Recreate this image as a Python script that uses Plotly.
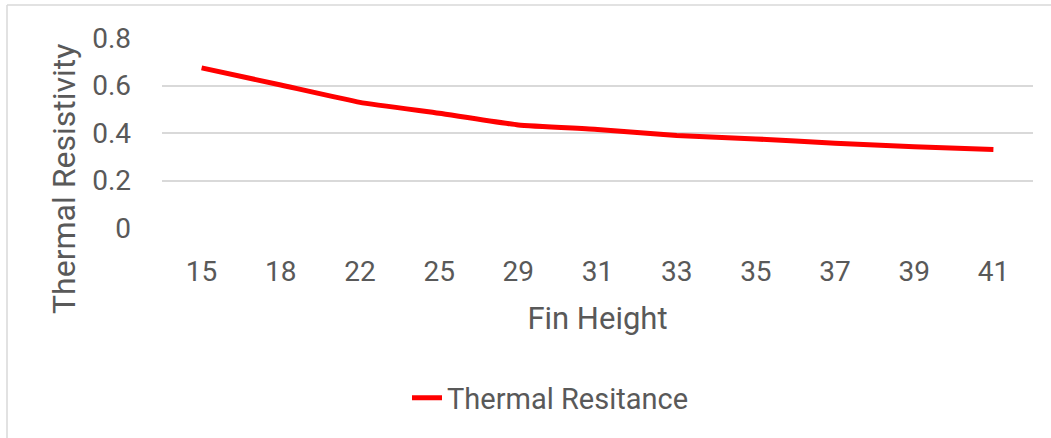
import plotly.graph_objects as go

# Fin height categories and measured thermal resistance
fin_heights = ["15", "18", "22", "25", "29", "31", "33", "35", "37", "39", "41"]
thermal_resistance = [0.674, 0.602, 0.529, 0.483, 0.434, 0.415, 0.389, 0.375, 0.357, 0.342, 0.331]
y_ticks = [0, 0.2, 0.4, 0.6, 0.8]
y_tick_text = ["0", "0.2", "0.4", "0.6", "0.8"]

W, H = 1051, 438
L, R, T, B = 162, 18, 38, 210
pw, ph = W - L - R, H - T - B

FONT = "Roboto"
GREY = "#595959"
GRID = "#d9d9d9"


def px_x(x):
    return (x - L) / pw


def px_y(y):
    return (T + ph - y) / ph


fig = go.Figure()
fig.add_trace(go.Scatter(
    x=fin_heights,
    y=thermal_resistance,
    mode="lines",
    name="Thermal Resitance",
    line=dict(color="#ff0000", width=5, shape="spline", smoothing=0.4),
))

fig.update_layout(
    width=W, height=H,
    margin=dict(l=L, r=R, t=T, b=B, autoexpand=False),
    paper_bgcolor="white",
    plot_bgcolor="white",
    font=dict(family=FONT, color=GREY),
    showlegend=True,
    legend=dict(
        orientation="h",
        x=px_x(407), xanchor="left",
        y=px_y(398), yanchor="middle",
        font=dict(family=FONT, size=29, color=GREY),
        bgcolor="rgba(0,0,0,0)",
    ),
    xaxis=dict(
        type="category",
        range=[-0.5, len(fin_heights) - 0.5],
        showgrid=False,
        zeroline=False,
        showline=False,
        ticks="",
        tickfont=dict(family=FONT, size=28, color=GREY),
        ticklabelstandoff=24,
        title=dict(text="Fin Height", font=dict(family=FONT, size=31, color=GREY), standoff=20),
    ),
    yaxis=dict(
        range=[0, 0.8],
        tickvals=y_ticks,
        ticktext=y_tick_text,
        showgrid=True,
        gridcolor=GRID,
        gridwidth=1.5,
        zeroline=False,
        showline=False,
        ticks="",
        tickfont=dict(family=FONT, size=28, color=GREY),
        ticklabelstandoff=30,
    ),
    annotations=[
        dict(text="Thermal Resistivity", xref="paper", yref="paper",
             x=px_x(64), y=px_y(179), xanchor="center", yanchor="middle",
             textangle=-90, showarrow=False,
             font=dict(family=FONT, size=32, color=GREY)),
    ],
    shapes=[
        # chart area border (top and left edges)
        dict(type="line", xref="paper", yref="paper",
             x0=px_x(7), x1=px_x(W + 5), y0=px_y(5), y1=px_y(5),
             line=dict(color=GRID, width=1.5)),
        dict(type="line", xref="paper", yref="paper",
             x0=px_x(7), x1=px_x(7), y0=px_y(5), y1=px_y(H + 5),
             line=dict(color=GRID, width=1.5)),
    ],
)

fig.write_html("out.html")
